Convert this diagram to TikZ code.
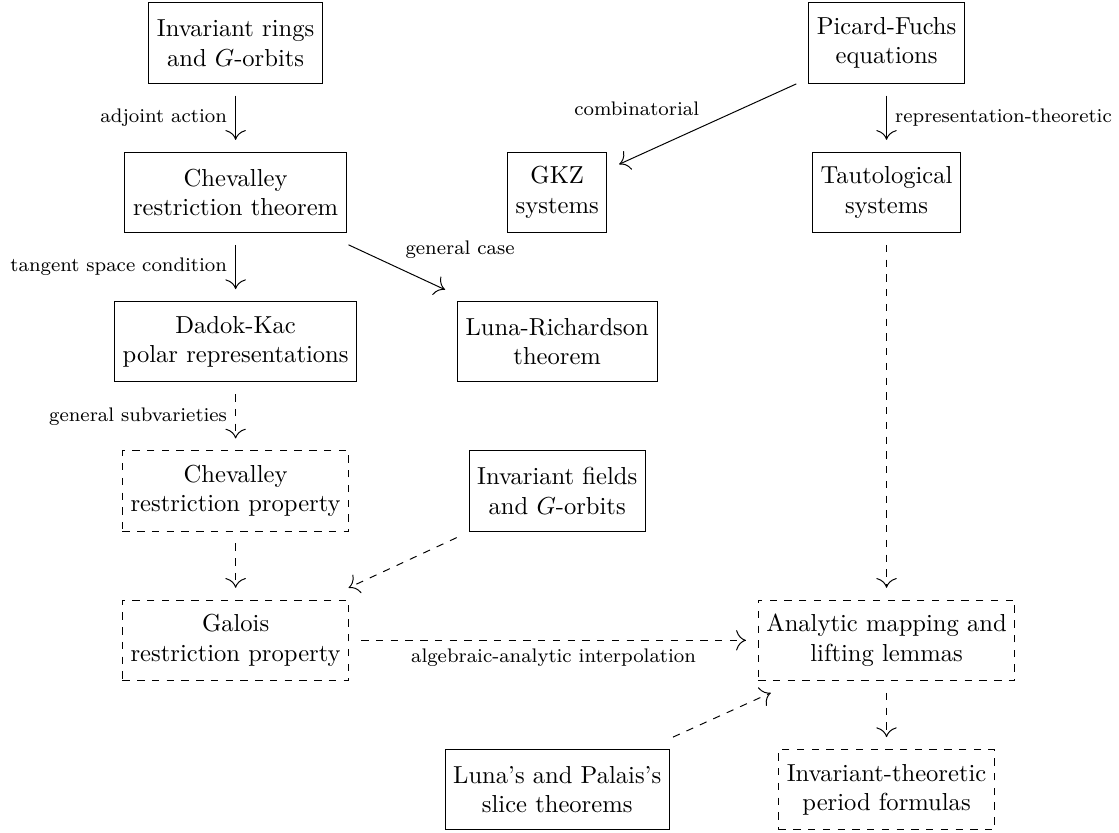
\documentclass[tikz,border=0pt]{standalone}
\usepackage{tikz}
\usetikzlibrary{arrows.meta}

\begin{document}
\begin{tikzpicture}[>={To[scale=1.6]}]
\tikzstyle{every node}+=[align=center]
\tikzstyle{box}=[draw, minimum height=1.15cm, outer sep=5pt]
\tikzstyle{dbox}=[box, dashed]
\tikzstyle{lbl}=[font=\footnotesize]
\useasboundingbox (0,0) rectangle (16,-11.91);
% left column
\node[box] (rings) at (3.369,-0.615) {Invariant rings\\and $G$-orbits};
\node[box] (chevthm) at (3.369,-2.750) {Chevalley\\restriction theorem};
\node[box] (dadok) at (3.369,-4.885) {Dadok-Kac\\polar representations};
\node[dbox] (chevprop) at (3.369,-7.020) {Chevalley\\restriction property};
\node[dbox] (galois) at (3.369,-9.155) {Galois\\restriction property};
% middle column
\node[box] (gkz) at (7.967,-2.750) {GKZ\\systems};
\node[box] (lunar) at (7.967,-4.885) {Luna-Richardson\\theorem};
\node[box] (fields) at (7.967,-7.020) {Invariant fields\\and $G$-orbits};
\node[box] (slice) at (7.967,-11.290) {Luna's and Palais's\\slice theorems};
% right column
\node[box] (pf) at (12.676,-0.615) {Picard-Fuchs\\equations};
\node[box] (taut) at (12.676,-2.750) {Tautological\\systems};
\node[dbox] (lift) at (12.676,-9.155) {Analytic mapping and\\lifting lemmas};
\node[dbox] (period) at (12.676,-11.290) {Invariant-theoretic\\period formulas};
% solid arrows
\draw[->] (rings) -- node[left, lbl] {adjoint action} (chevthm);
\draw[->] (chevthm) -- node[left, lbl] {tangent space condition} (dadok);
\draw[->] (chevthm) -- node[above right, lbl] {general case} (lunar);
\draw[->] (pf) -- node[above left, lbl] {combinatorial} (gkz);
\draw[->] (pf) -- node[right, lbl] {representation-theoretic} (taut);
% dashed arrows
\draw[->, dashed] (dadok) -- node[left, lbl] {general subvarieties} (chevprop);
\draw[->, dashed] (chevprop) -- (galois);
\draw[->, dashed] (fields) -- (galois);
\draw[->, dashed] (galois) -- node[below, lbl] {algebraic-analytic interpolation} (lift);
\draw[->, dashed] (taut) -- (lift);
\draw[->, dashed] (slice) -- (lift);
\draw[->, dashed] (lift) -- (period);
\end{tikzpicture}
\end{document}
